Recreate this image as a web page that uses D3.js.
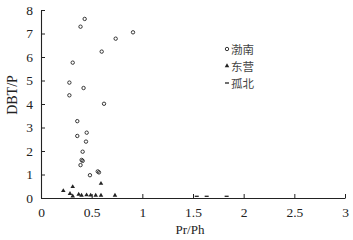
<!DOCTYPE html>
<html>
<head>
<meta charset="utf-8">
<script src="https://cdn.jsdelivr.net/npm/d3@7"></script>
<style>
body{margin:0;background:#fff;}
svg{display:block;}
</style>
</head>
<body>
<svg id="c" width="353" height="240"></svg>
<script>
const xTicks = [0, 0.5, 1, 1.5, 2, 2.5, 3];
const xTickLabels = ["0", "0.5", "1", "1.5", "2", "2.5", "3"];
const yTicks = [0, 1, 2, 3, 4, 5, 6, 7, 8];
const seriesNames = ["渤南", "东营", "孤北"];
const bonanX = [0.431,0.39,0.737,0.908,0.599,0.313,0.28,0.42,0.28,0.622,0.358,0.451,0.358,0.444,0.411,0.401,0.411,0.39,0.483,0.56,0.572];
const bonanY = [7.62,7.29,6.78,7.05,6.23,5.76,4.91,4.68,4.37,4.01,3.27,2.78,2.64,2.4,1.97,1.62,1.58,1.4,0.97,1.13,1.09];
const dongyingX = [0.22,0.313,0.286,0.313,0.372,0.40,0.45,0.49,0.54,0.592,0.592,0.73];
const dongyingY = [0.23,0.40,0.11,0.0,0.08,0.03,0.05,0.04,0.03,0.54,0.03,0.03];
const gubeiX = [1.537,1.635,1.832];
const gubeiY = [0.03,0.03,0.03];

const svg = d3.select("#c");
const x = d3.scaleLinear().domain([0,3]).range([41,345]);
const y = d3.scaleLinear().domain([0,8]).range([198,10]);
const ink = "#222";
const serif = "'Liberation Serif','Times New Roman',serif";

// axes
const xAxis = svg.append("g").attr("transform","translate(0,"+y(0)+")")
  .call(d3.axisBottom(x).tickValues(xTicks).tickFormat((d,i)=>xTickLabels[i]).tickSizeInner(-4).tickSizeOuter(0).tickPadding(9));
const yAxis = svg.append("g").attr("transform","translate("+x(0)+",0)")
  .call(d3.axisLeft(y).tickValues(yTicks).tickFormat(d3.format("d")).tickSizeInner(-4).tickSizeOuter(0).tickPadding(8));
[xAxis,yAxis].forEach(a=>{
  a.select(".domain").attr("stroke",ink).attr("stroke-width",1.1);
  a.selectAll(".tick line").attr("stroke",ink).attr("stroke-width",1);
  a.selectAll(".tick text").attr("fill","#222").attr("font-family",serif).attr("font-size",13.5);
});

// axis titles
svg.append("text").attr("x",190).attr("y",234).attr("text-anchor","middle")
  .attr("font-family",serif).attr("font-size",13).attr("fill","#222").text("Pr/Ph");
svg.append("text").attr("transform","translate(17,95) rotate(-90)").attr("text-anchor","middle")
  .attr("font-family",serif).attr("font-size",14).attr("fill","#222").text("DBT/P");

// marks
const g = svg.append("g");
g.selectAll(".bn").data(bonanX.map((v,i)=>[v,bonanY[i]])).enter().append("circle")
  .attr("cx",d=>x(d[0])).attr("cy",d=>y(d[1])).attr("r",1.7)
  .attr("fill","none").attr("stroke",ink).attr("stroke-width",0.9);
const tri = d3.symbol().type(d3.symbolTriangle).size(9);
g.selectAll(".dy").data(dongyingX.map((v,i)=>[v,dongyingY[i]])).enter().append("path")
  .attr("d",tri).attr("transform",d=>"translate("+x(d[0])+","+(y(d[1])-1.8)+")").attr("fill",ink);
g.selectAll(".gb").data(gubeiX.map((v,i)=>[v,gubeiY[i]])).enter().append("line")
  .attr("x1",d=>x(d[0])-2).attr("x2",d=>x(d[0])+2)
  .attr("y1",d=>y(d[1])-1).attr("y2",d=>y(d[1])-1)
  .attr("stroke",ink).attr("stroke-width",1.3);

// legend
const lg = svg.append("g").attr("transform","translate(227,49)");
seriesNames.forEach((n,i)=>{
  const row = lg.append("g").attr("transform","translate(0,"+(i*17)+")");
  if(i===0) row.append("circle").attr("r",1.7).attr("fill","none").attr("stroke",ink).attr("stroke-width",0.9);
  if(i===1) row.append("path").attr("d",tri).attr("fill",ink);
  if(i===2) row.append("line").attr("x1",-2).attr("x2",2).attr("stroke",ink).attr("stroke-width",1.3);
  row.append("text").attr("x",4).attr("y",4.5).attr("font-family","'Noto Sans CJK SC',sans-serif")
    .attr("font-size",11.5).attr("fill","#444").text(n);
});
</script>
</body>
</html>
